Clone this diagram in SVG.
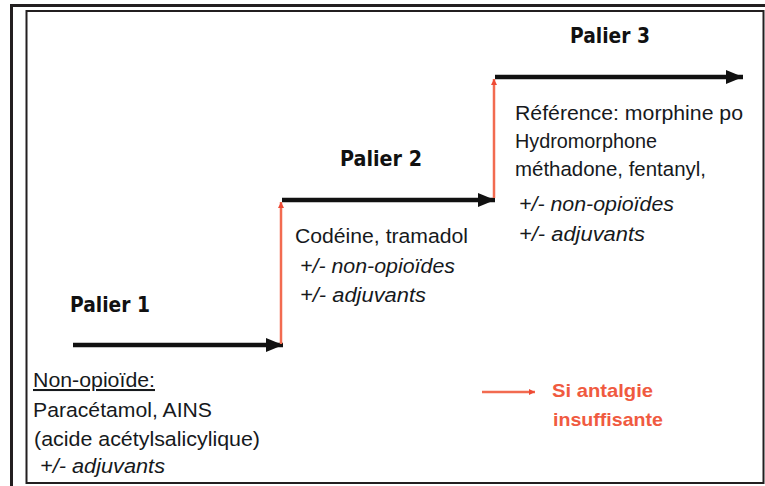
<svg xmlns="http://www.w3.org/2000/svg" width="765" height="486" viewBox="0 0 765 486">
  <defs>
    <marker id="blackHead" markerUnits="userSpaceOnUse" markerWidth="18" markerHeight="16" refX="17" refY="8" orient="auto">
      <path d="M0,1 L17,8 L0,15 Z" fill="#111"/>
    </marker>
    <marker id="redHead" markerUnits="userSpaceOnUse" markerWidth="8" markerHeight="8" refX="6" refY="4" orient="auto">
      <path d="M0,1 L6,4 L0,7 Z" fill="#ee4a35"/>
    </marker>
  </defs>
  <style>
    .frame { fill: none; stroke: #231f20; }
    .step { stroke: #111; stroke-width: 4.5; fill: none; marker-end: url(#blackHead); }
    .rise { stroke: #f26b50; stroke-width: 2.5; fill: none; marker-end: url(#redHead); }
    .title { font-family: "DejaVu Sans", "Liberation Sans", sans-serif; font-weight: bold; font-size: 21px; fill: #111; }
    .body { font-family: "Liberation Sans", "DejaVu Sans", sans-serif; font-size: 20.5px; fill: #16191c; }
    .it { font-style: italic; }
    .legend { font-family: "Liberation Sans", sans-serif; font-weight: bold; font-size: 19px; fill: #f05a40; }
  </style>

  <rect width="765" height="486" fill="#ffffff"/>
  <g id="frame">
    <path class="frame" stroke-width="3" d="M11.5,486 V5.5 H765"/>
    <rect class="frame" stroke-width="2" x="26.5" y="11" width="737" height="472"/>
  </g>

  <g id="connectors">
    <line class="step" x1="73" y1="345" x2="283" y2="345"/>
    <line class="step" x1="282" y1="200" x2="495" y2="200"/>
    <line class="step" x1="495" y1="77" x2="743" y2="77"/>
    <line class="rise" x1="281" y1="344" x2="281" y2="202"/>
    <line class="rise" x1="494" y1="198" x2="494" y2="79"/>
  </g>

  <g id="palier1">
    <text class="title" x="70" y="312" textLength="80" lengthAdjust="spacingAndGlyphs">Palier 1</text>
    <text class="body" x="33" y="387" textLength="122" lengthAdjust="spacingAndGlyphs" text-decoration="underline">Non-opioïde:</text>
    <text class="body" x="33" y="417" textLength="179" lengthAdjust="spacingAndGlyphs">Paracétamol, AINS</text>
    <text class="body" x="34" y="446" textLength="226" lengthAdjust="spacingAndGlyphs">(acide acétylsalicylique)</text>
    <text class="body it" x="40" y="473" textLength="125" lengthAdjust="spacingAndGlyphs">+/- adjuvants</text>
  </g>

  <g id="palier2">
    <text class="title" x="340" y="166" textLength="82" lengthAdjust="spacingAndGlyphs">Palier 2</text>
    <text class="body" x="295" y="243" textLength="173" lengthAdjust="spacingAndGlyphs">Codéine, tramadol</text>
    <text class="body it" x="300" y="273" textLength="155" lengthAdjust="spacingAndGlyphs">+/- non-opioïdes</text>
    <text class="body it" x="300" y="302" textLength="126" lengthAdjust="spacingAndGlyphs">+/- adjuvants</text>
  </g>

  <g id="palier3">
    <text class="title" x="570" y="43" textLength="80" lengthAdjust="spacingAndGlyphs">Palier 3</text>
    <text class="body" x="515" y="120" textLength="228" lengthAdjust="spacingAndGlyphs">Référence: morphine po</text>
    <text class="body" x="515" y="148" textLength="142" lengthAdjust="spacingAndGlyphs">Hydromorphone</text>
    <text class="body" x="515" y="176" textLength="191" lengthAdjust="spacingAndGlyphs">méthadone, fentanyl,</text>
    <text class="body it" x="519" y="211" textLength="155" lengthAdjust="spacingAndGlyphs">+/- non-opioïdes</text>
    <text class="body it" x="519" y="241" textLength="126" lengthAdjust="spacingAndGlyphs">+/- adjuvants</text>
  </g>

  <g id="legend">
    <line class="rise" x1="482" y1="392" x2="535" y2="392"/>
    <text class="legend" x="552" y="397" textLength="101" lengthAdjust="spacingAndGlyphs">Si antalgie</text>
    <text class="legend" x="553" y="426" textLength="110" lengthAdjust="spacingAndGlyphs">insuffisante</text>
  </g>
</svg>
